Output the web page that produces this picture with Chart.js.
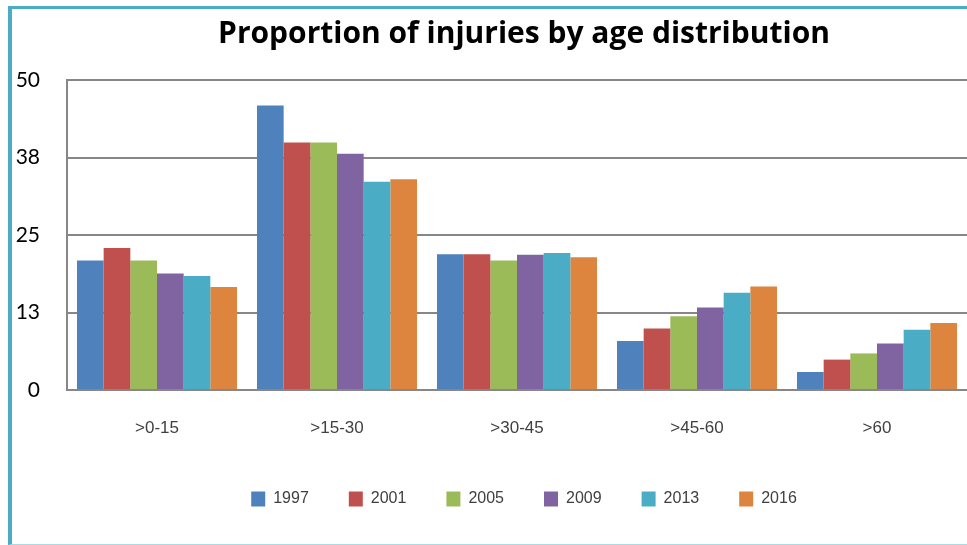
<!DOCTYPE html>
<html>
<head>
<meta charset="utf-8">
<script src="https://cdn.jsdelivr.net/npm/chart.js@4"></script>
<style>
  html, body { margin: 0; padding: 0; overflow: hidden; background: #fff; }
  #frame {
    position: absolute; left: 8px; top: 6px; width: 1100px; height: 539px;
    box-sizing: border-box;
    border-top: 3px solid #4bacc6;
    border-left: 4px solid #4bacc6;
    border-bottom: 1px solid #a8dbe6;
  }
  #chart { position: absolute; left: 0; top: 0; }
</style>
</head>
<body>
<div id="frame"></div>
<canvas id="chart" width="1048" height="545"></canvas>
<script>
// Datos
const ageGroups = [">0-15", ">15-30", ">30-45", ">45-60", ">60"];
const years = ["1997", "2001", "2005", "2009", "2013", "2016"];
const values1997 = [20.9, 45.9, 21.9, 7.9, 2.9];
const values2001 = [22.9, 39.9, 21.9, 9.9, 4.9];
const values2005 = [20.9, 39.9, 20.9, 11.9, 5.9];
const values2009 = [18.8, 38.1, 21.8, 13.3, 7.5];
const values2013 = [18.4, 33.6, 22.1, 15.7, 9.7];
const values2016 = [16.6, 34.0, 21.4, 16.7, 10.8];
const yTickLabels = ["0", "13", "25", "38", "50"];

const colors = ["#4f81bd", "#c0504d", "#9bbb59", "#8064a2", "#4bacc6", "#dd843e"];
const series = [values1997, values2001, values2005, values2009, values2013, values2016];

const gridGray = "#878787";

new Chart(document.getElementById("chart"), {
  type: "bar",
  data: {
    labels: ageGroups,
    datasets: series.map((vals, i) => ({
      label: years[i],
      data: vals,
      backgroundColor: colors[i],
      categoryPercentage: 0.889,
      barPercentage: 1.0,
    })),
  },
  options: {
    responsive: false,
    animation: false,
    layout: { padding: { left: 0, right: 0, top: 0, bottom: 28 } },
    plugins: {
      title: {
        display: true,
        text: "Proportion of injuries by age distribution",
        color: "#000",
        font: { family: "Open Sans", size: 30, weight: "bold", lineHeight: 1.2 },
        padding: { top: 16, bottom: 28 },
      },
      legend: {
        position: "bottom",
        labels: {
          boxWidth: 14,
          boxHeight: 15,
          padding: 40,
          color: "#404040",
          font: { family: "Liberation Sans", size: 16 },
        },
      },
      tooltip: { enabled: false },
    },
    scales: {
      x: {
        grid: { display: false },
        border: { display: true, color: gridGray, width: 2 },
        ticks: {
          color: "#404040",
          padding: 20,
          font: { family: "Liberation Sans", size: 17 },
        },
        afterFit: (scale) => { scale.height = 61; },
      },
      y: {
        min: 0,
        max: 50,
        grid: { color: gridGray, lineWidth: 2, drawTicks: false },
        border: { display: true, color: gridGray, width: 2 },
        ticks: {
          stepSize: 12.5,
          padding: 27,
          color: "#000",
          font: { family: "Lato", size: 21 },
          callback: (value, index) => yTickLabels[index],
        },
        afterFit: (scale) => { scale.width = 67; },
      },
      // eje vacio a la derecha: la zona de dibujo termina en el borde de la ventana
      yRight: {
        position: "right",
        grid: { display: false },
        border: { display: false },
        ticks: { display: false },
        afterFit: (scale) => { scale.width = 81; },
      },
    },
  },
});
</script>
</body>
</html>
